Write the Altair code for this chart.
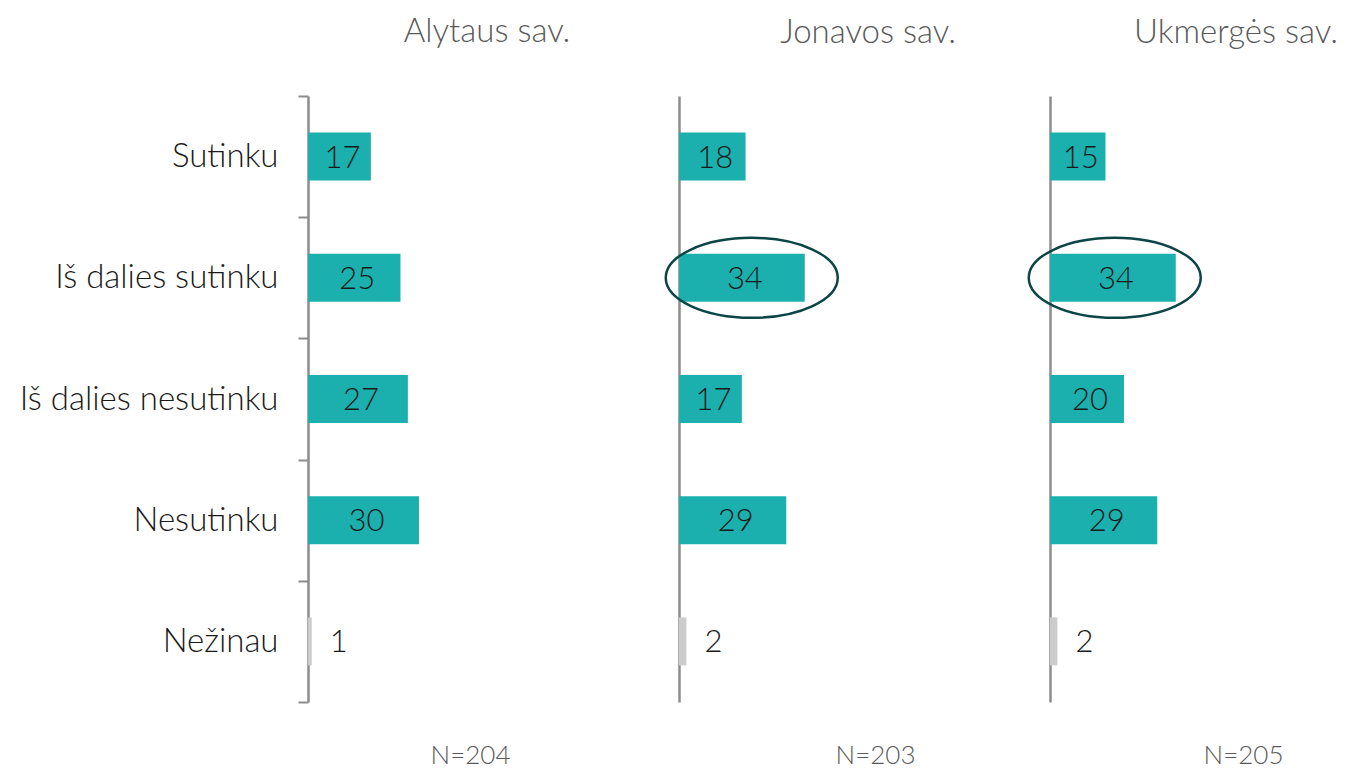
import altair as alt
import pandas as pd

categories = ["Sutinku", "Iš dalies sutinku", "Iš dalies nesutinku", "Nesutinku", "Nežinau"]
regions = ["Alytaus sav.", "Jonavos sav.", "Ukmergės sav."]
alytus = [17, 25, 27, 30, 1]
jonava = [18, 34, 17, 29, 2]
ukmerge = [15, 34, 20, 29, 2]
n_labels = ["N=204", "N=203", "N=205"]
highlight = [None, "Iš dalies sutinku", "Iš dalies sutinku"]

FONT = "Lato"
WEIGHT = 300
TEAL = "#1bb0ae"
GRAY_BAR = "#cccccc"
AXIS = "#8c8c8c"
ELLIPSE = "#0b4545"

k, b = 0.5523, 0.465
ELLIPSE_PATH = (
    f"M1,0 C1,{k*b:.4f} {k},{b} 0,{b} "
    f"C{-k},{b} -1,{k*b:.4f} -1,0 "
    f"C-1,{-k*b:.4f} {-k},{-b} 0,{-b} "
    f"C{k},{-b} 1,{-k*b:.4f} 1,0 Z"
)

W, H = 270, 606
X_MAX = 73
title_dx = [44, 54, 51]
title_offset = [5, 20, 20]
n_x = [162, 196, 193]
ell_dx = [0, -53, -61]


def panel(i, values):
    df = pd.DataFrame({"cat": categories, "val": values})
    y_axis = (
        alt.Axis(
            title=None, domainColor=AXIS, domainWidth=2.5, tickColor=AXIS,
            tickWidth=2, tickSize=10, tickBand="extent", labelFontSize=33,
            labelFont=FONT, labelFontWeight=WEIGHT, labelColor="#1a1a1a",
            labelPadding=20, labelLimit=400, minExtent=300, maxExtent=300,
        )
        if i == 0
        else alt.Axis(
            title=None, domainColor=AXIS, domainWidth=2.5, ticks=False,
            labels=False, minExtent=0, maxExtent=0,
        )
    )
    y = alt.Y("cat:N", sort=categories,
              scale=alt.Scale(paddingInner=0, paddingOuter=0), axis=y_axis)
    x = alt.X(
        "val:Q",
        scale=alt.Scale(domain=[0, X_MAX], nice=False, zero=True),
        axis=alt.Axis(
            domain=False, ticks=False, labels=False, grid=False,
            title=n_labels[i], titleFont=FONT, titleFontSize=26,
            titleFontWeight=WEIGHT, titleColor="#595959", titleX=n_x[i],
            titleAlign="center", titlePadding=40,
        ),
    )
    base = alt.Chart(df)
    bars = base.mark_bar(size=48).encode(
        x=x, y=y,
        color=alt.Color("cat:N", scale=alt.Scale(
            domain=categories, range=[TEAL, TEAL, TEAL, TEAL, GRAY_BAR]), legend=None),
    )
    inner = base.transform_filter(alt.datum.cat != "Nežinau").transform_calculate(
        mid="datum.val / 2"
    ).mark_text(font=FONT, fontSize=31, fontWeight=WEIGHT, color="#1a1a1a",
                align="center", baseline="middle", dx=3, dy=2).encode(
        x="mid:Q", y=alt.Y("cat:N", sort=categories), text="val:Q")
    outer = base.transform_filter(alt.datum.cat == "Nežinau").mark_text(
        font=FONT, fontSize=31, fontWeight=WEIGHT, color="#1a1a1a", align="left",
        baseline="middle", dx=18, dy=2).encode(
        x="val:Q", y=alt.Y("cat:N", sort=categories), text="val:Q")
    layers = [bars, inner, outer]
    if highlight[i]:
        hl = base.transform_filter(alt.datum.cat == highlight[i]).mark_point(
            shape=ELLIPSE_PATH, size=172 * 172, filled=False, stroke=ELLIPSE,
            strokeWidth=2.5, opacity=1).encode(
            x="val:Q", y=alt.Y("cat:N", sort=categories),
            xOffset=alt.value(ell_dx[i]))
        layers.append(hl)
    return alt.layer(*layers).properties(
        width=W, height=H,
        title=alt.TitleParams(regions[i], font=FONT, fontSize=33,
                              fontWeight=WEIGHT, color="#595959",
                              anchor="middle", frame="group", baseline="alphabetic",
                              dx=title_dx[i], offset=title_offset[i]),
    )


chart = alt.hconcat(
    panel(0, alytus), panel(1, jonava), panel(2, ukmerge), spacing=101
).properties(
    bounds="flush", padding={"left": 0, "top": 8, "right": 0, "bottom": 0}
).configure_view(stroke=None)

chart.save("out.html", embed_options={"renderer": "svg", "actions": False})
